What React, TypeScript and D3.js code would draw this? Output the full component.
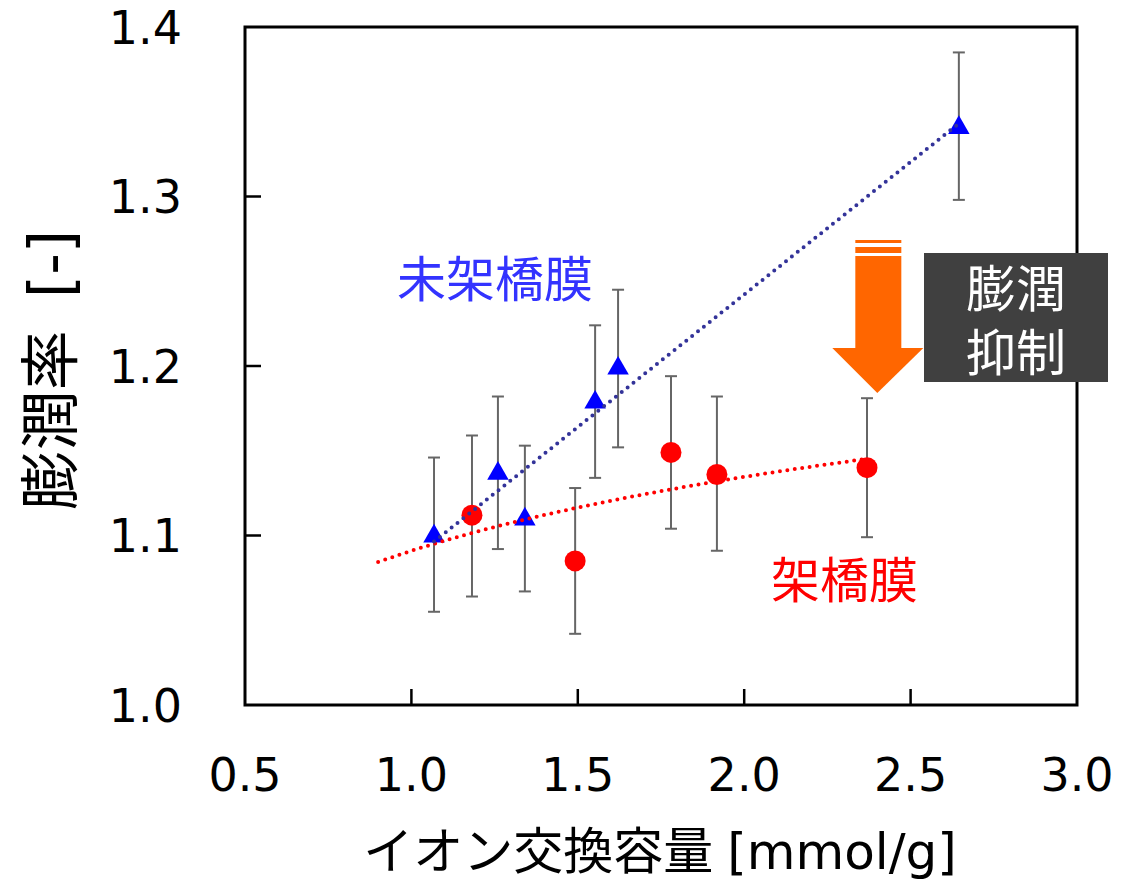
import * as d3 from "d3";
import React from "react";

// 未架橋膜 (uncrosslinked) - triangles
const uncrossX = [1.068, 1.26, 1.341, 1.552, 1.621, 2.645];
const uncrossY = [1.099, 1.136, 1.109, 1.178, 1.198, 1.34];
const uncrossLo = [1.055, 1.092, 1.067, 1.134, 1.152, 1.298];
const uncrossHi = [1.146, 1.182, 1.153, 1.224, 1.245, 1.385];

// 架橋膜 (crosslinked) - circles
const crossX = [1.182, 1.492, 1.78, 1.918, 2.369];
const crossY = [1.112, 1.085, 1.149, 1.136, 1.14];
const crossLo = [1.064, 1.042, 1.104, 1.091, 1.099];
const crossHi = [1.159, 1.128, 1.194, 1.182, 1.181];
const crossTrendRange = [0.9, 2.37];

const xTicks = [0.5, 1.0, 1.5, 2.0, 2.5, 3.0];
const yTicks = [1.0, 1.1, 1.2, 1.3, 1.4];

const W = 1133;
const H = 886;
const margin = { top: 27, right: 56, bottom: 181, left: 245 };
const FONT = "'DejaVu Sans', 'Noto Sans CJK JP', sans-serif";
const JP = "'Noto Sans CJK JP', sans-serif";

function linearFit(xs: number[], ys: number[]) {
  const mx = d3.mean(xs)!;
  const my = d3.mean(ys)!;
  const b = d3.sum(xs, (x, i) => (x - mx) * (ys[i] - my)) / d3.sum(xs, (x) => (x - mx) ** 2);
  return (x: number) => my + b * (x - mx);
}

function logFit(xs: number[], ys: number[]) {
  const f = linearFit(xs.map(Math.log), ys);
  return (x: number) => f(Math.log(x));
}

export default function App() {
  const iw = W - margin.left - margin.right;
  const ih = H - margin.top - margin.bottom;
  const x = d3.scaleLinear().domain([0.5, 3.0]).range([0, iw]);
  const y = d3.scaleLinear().domain([1.0, 1.4]).range([ih, 0]);

  const blueFit = linearFit(uncrossX, uncrossY);
  const redFit = logFit(crossX, crossY);

  const blueXs = d3.range(0, 41).map((i) => d3.min(uncrossX)! + (i / 40) * (d3.max(uncrossX)! - d3.min(uncrossX)!));
  const redXs = d3.range(0, 41).map((i) => crossTrendRange[0] + (i / 40) * (crossTrendRange[1] - crossTrendRange[0]));
  const bluePath = d3.line<number>().x((d) => x(d)).y((d) => y(blueFit(d)))(blueXs)!;
  const redPath = d3.line<number>().x((d) => x(d)).y((d) => y(redFit(d)))(redXs)!;

  const tri = d3.symbol().type(d3.symbolTriangle).size(200)()!;

  const errBar = (cx: number, lo: number, hi: number, key: string) => (
    <g key={key} stroke="#666" strokeWidth={2}>
      <line x1={x(cx)} x2={x(cx)} y1={y(lo)} y2={y(hi)} />
      <line x1={x(cx) - 6} x2={x(cx) + 6} y1={y(lo)} y2={y(lo)} />
      <line x1={x(cx) - 6} x2={x(cx) + 6} y1={y(hi)} y2={y(hi)} />
    </g>
  );

  // arrow centred near x = 2.4
  const ax = x(2.4) + margin.left;

  return (
    <svg width={W} height={H} style={{ position: "absolute", left: 0, top: 0 }}>
      <rect width={W} height={H} fill="#fff" />
      <g transform={`translate(${margin.left},${margin.top})`}>
        {/* ticks inward */}
        {xTicks.slice(1, -1).map((t) => (
          <line key={"xt" + t} x1={x(t)} x2={x(t)} y1={ih} y2={ih - 16} stroke="#000" strokeWidth={2.5} />
        ))}
        {yTicks.slice(1, -1).map((t) => (
          <line key={"yt" + t} x1={0} x2={16} y1={y(t)} y2={y(t)} stroke="#000" strokeWidth={2.5} />
        ))}
        <rect x={0} y={0} width={iw} height={ih} fill="none" stroke="#000" strokeWidth={3} />

        {xTicks.map((t) => (
          <text key={"xl" + t} x={x(t)} y={ih + 86} textAnchor="middle" fontFamily={FONT} fontSize={46}>
            {t.toFixed(1)}
          </text>
        ))}
        {yTicks.map((t) => (
          <text key={"yl" + t} x={-63} y={y(t)} dy="0.36em" textAnchor="end" fontFamily={FONT} fontSize={46}>
            {t.toFixed(1)}
          </text>
        ))}

        {/* error bars */}
        {uncrossX.map((cx, i) => errBar(cx, uncrossLo[i], uncrossHi[i], "eu" + i))}
        {crossX.map((cx, i) => errBar(cx, crossLo[i], crossHi[i], "ec" + i))}

        {/* markers */}
        {crossX.map((cx, i) => (
          <circle key={"c" + i} cx={x(cx)} cy={y(crossY[i])} r={10.5} fill="#ff0000" />
        ))}
        {uncrossX.map((cx, i) => (
          <path key={"t" + i} d={tri} transform={`translate(${x(cx)},${y(uncrossY[i]) - 1})`} fill="#0000ff" />
        ))}

        {/* trend lines */}
        <path d={redPath} fill="none" stroke="#ff0000" strokeWidth={4} strokeDasharray="0 7.5" strokeLinecap="round" />
        <path d={bluePath} fill="none" stroke="#333399" strokeWidth={4} strokeDasharray="0 7.5" strokeLinecap="round" />

        {/* series labels */}
        <text x={152} y={270} fontFamily={JP} fontSize={49} fill="#3333ff">
          未架橋膜
        </text>
        <text x={526} y={571} fontFamily={JP} fontSize={49} fill="#ff0000">
          架橋膜
        </text>
      </g>

      {/* arrow */}
      <g fill="#ff6600">
        <rect x={ax - 22} y={240} width={46} height={3} />
        <rect x={ax - 22} y={247} width={46} height={6} />
        <rect x={ax - 22} y={256} width={46} height={93} />
        <path d={`M${ax - 45},348 L${ax + 46},348 L${ax},393 Z`} />
      </g>
      <rect x={924} y={253} width={184} height={129} fill="#404040" />
      <text x={1016} y={307} textAnchor="middle" fontFamily={JP} fontSize={50} fill="#fff">
        膨潤
      </text>
      <text x={1016} y={371} textAnchor="middle" fontFamily={JP} fontSize={50} fill="#fff">
        抑制
      </text>

      {/* axis titles */}
      <text x={660} y={869} textAnchor="middle" fontFamily={FONT} fontSize={50}>
        <tspan fontFamily={JP}>イオン交換容量</tspan>
        <tspan dx={14}>[mmol/g]</tspan>
      </text>
      <text transform={`translate(72,370) rotate(-90)`} textAnchor="middle" fontFamily={FONT} fontSize={60}>
        <tspan fontFamily={JP}>膨潤率</tspan>
        <tspan dx={32}>[-]</tspan>
      </text>
    </svg>
  );
}
